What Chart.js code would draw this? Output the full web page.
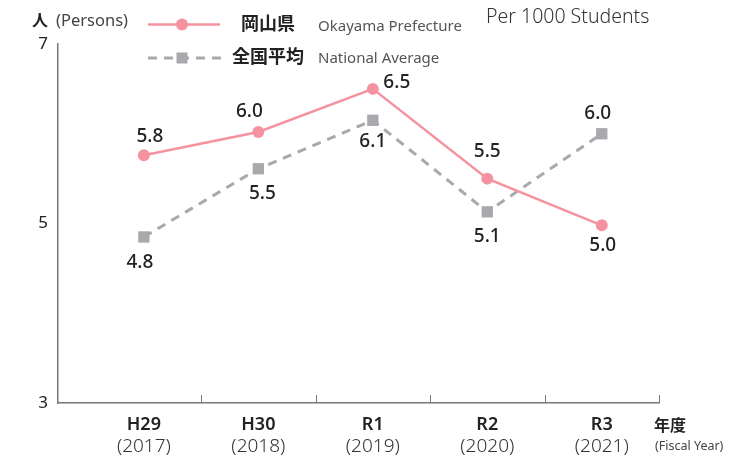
<!DOCTYPE html>
<html>
<head>
<meta charset="utf-8">
<script src="https://cdn.jsdelivr.net/npm/chart.js@4"></script>
<style>
  html, body { margin: 0; padding: 0; background: #fff; }
  #wrap { width: 731px; height: 460px; }
</style>
</head>
<body>
<div id="wrap"><canvas id="rateChart" width="731" height="460"></canvas></div>
<script>
// data
const categories = ['H29', 'H30', 'R1', 'R2', 'R3'];
const fiscalYears = ['(2017)', '(2018)', '(2019)', '(2020)', '(2021)'];
const okayama = [5.76, 6.02, 6.5, 5.5, 4.98];
const national = [4.85, 5.61, 6.15, 5.13, 6.0];
const okayamaText = ['5.8', '6.0', '6.5', '5.5', '5.0'];
const nationalText = ['4.8', '5.5', '6.1', '5.1', '6.0'];
const yTicks = [3, 5, 7];

const FONT = '"Noto Sans", "Noto Sans CJK JP", sans-serif';
const PINK = '#f4939f';
const GREY = '#a8a9ad';

// where each value label sits relative to its point
const okayamaOffset = [[6, -19], [-9, -20], [24, -6], [0, -27], [1, 20]];
const nationalOffset = [[-4, 26], [4, 25], [0, 21], [0, 25], [-4, -20]];

function toPoints(arr) {
  return arr.map((v, i) => ({ x: i, y: v }));
}

const extras = {
  id: 'extras',
  afterDraw(chart) {
    const ctx = chart.ctx;
    const xs = chart.scales.x;
    const area = chart.chartArea;
    ctx.save();

    // small tick marks pointing up from the x axis
    ctx.strokeStyle = '#777';
    ctx.lineWidth = 1;
    for (let i = 0; i < categories.length; i++) {
      const x = Math.round(xs.getPixelForValue(i + 0.5)) + 0.5;
      ctx.beginPath();
      ctx.moveTo(x, area.bottom);
      ctx.lineTo(x, area.bottom - 8);
      ctx.stroke();
    }

    // category labels, centred in each band
    ctx.textAlign = 'center';
    ctx.textBaseline = 'middle';
    for (let i = 0; i < categories.length; i++) {
      const l = Math.max(area.left, xs.getPixelForValue(i - 0.5));
      const r = xs.getPixelForValue(i + 0.5);
      const cx = (l + r) / 2;
      ctx.fillStyle = '#222';
      ctx.font = '600 18px ' + FONT;
      ctx.fillText(categories[i], cx, 425);
      ctx.fillStyle = '#333';
      ctx.font = '300 19px ' + FONT;
      ctx.fillText(fiscalYears[i], cx, 447);
    }

    // value labels
    ctx.fillStyle = '#222';
    ctx.font = '500 19px ' + FONT;
    const sets = [[0, okayamaText, okayamaOffset], [1, nationalText, nationalOffset]];
    sets.forEach(([di, texts, offs]) => {
      chart.getDatasetMeta(di).data.forEach((pt, i) => {
        ctx.fillText(texts[i], pt.x + offs[i][0], pt.y + offs[i][1]);
      });
    });

    // axis captions
    ctx.textAlign = 'left';
    ctx.fillStyle = '#222';
    ctx.font = 'bold 16px ' + FONT;
    ctx.fillText('人', 32, 21);
    ctx.fillStyle = '#444';
    ctx.font = '16.5px ' + FONT;
    ctx.fillText('(Persons)', 56, 21);
    ctx.fillStyle = '#333';
    ctx.font = '300 19.5px ' + FONT;
    ctx.fillText('Per 1000 Students', 486, 17);
    ctx.fillStyle = '#222';
    ctx.font = 'bold 16px ' + FONT;
    ctx.fillText('年度', 654, 426);
    ctx.fillStyle = '#444';
    ctx.font = '12.5px ' + FONT;
    ctx.fillText('(Fiscal Year)', 655, 446);

    // legend
    ctx.lineWidth = 2.5;
    ctx.strokeStyle = PINK;
    ctx.beginPath();
    ctx.moveTo(148, 24.5);
    ctx.lineTo(220, 24.5);
    ctx.stroke();
    ctx.fillStyle = PINK;
    ctx.beginPath();
    ctx.arc(182, 24.5, 6, 0, Math.PI * 2);
    ctx.fill();

    ctx.strokeStyle = GREY;
    ctx.lineWidth = 3;
    ctx.setLineDash([9, 7]);
    ctx.beginPath();
    ctx.moveTo(148, 58);
    ctx.lineTo(222, 58);
    ctx.stroke();
    ctx.setLineDash([]);
    ctx.fillStyle = GREY;
    ctx.fillRect(176.5, 52.5, 11, 11);

    ctx.fillStyle = '#222';
    ctx.font = 'bold 18px ' + FONT;
    ctx.fillText('岡山県', 241, 25);
    ctx.fillText('全国平均', 232, 58);
    ctx.fillStyle = '#555';
    ctx.font = '15px ' + FONT;
    ctx.fillText('Okayama Prefecture', 318, 27);
    ctx.fillText('National Average', 318, 59);

    ctx.restore();
  }
};

const ctx = document.getElementById('rateChart').getContext('2d');
new Chart(ctx, {
  type: 'line',
  data: {
    datasets: [
      {
        label: '岡山県 Okayama Prefecture',
        data: toPoints(okayama),
        borderColor: PINK,
        backgroundColor: PINK,
        borderWidth: 2.5,
        pointRadius: 6,
        pointHoverRadius: 6,
        pointStyle: 'circle',
        pointBorderWidth: 0,
        tension: 0
      },
      {
        label: '全国平均 National Average',
        data: toPoints(national),
        borderColor: GREY,
        backgroundColor: GREY,
        borderWidth: 3,
        borderDash: [9, 7],
        pointRadius: 8,
        pointHoverRadius: 8,
        pointStyle: 'rect',
        pointBorderWidth: 0,
        tension: 0
      }
    ]
  },
  options: {
    responsive: false,
    animation: false,
    events: [],
    layout: { padding: { top: 44, right: 72, bottom: 0, left: 0 } },
    plugins: {
      legend: { display: false },
      tooltip: { enabled: false }
    },
    scales: {
      x: {
        type: 'linear',
        min: -0.75,
        max: 4.5,
        grid: { display: false, drawTicks: false },
        border: { display: true, color: '#777', width: 1.5 },
        ticks: { display: false },
        afterFit(scale) { scale.height = 57; }
      },
      y: {
        min: 3,
        max: 7,
        grid: { display: false, drawTicks: false },
        border: { display: true, color: '#777', width: 1.5 },
        afterBuildTicks(scale) { scale.ticks = yTicks.map(v => ({ value: v })); },
        ticks: {
          color: '#222',
          padding: 10,
          font: { family: FONT, size: 17, weight: '400' }
        },
        afterFit(scale) { scale.width = 58; }
      }
    }
  },
  plugins: [extras]
});
</script>
</body>
</html>
